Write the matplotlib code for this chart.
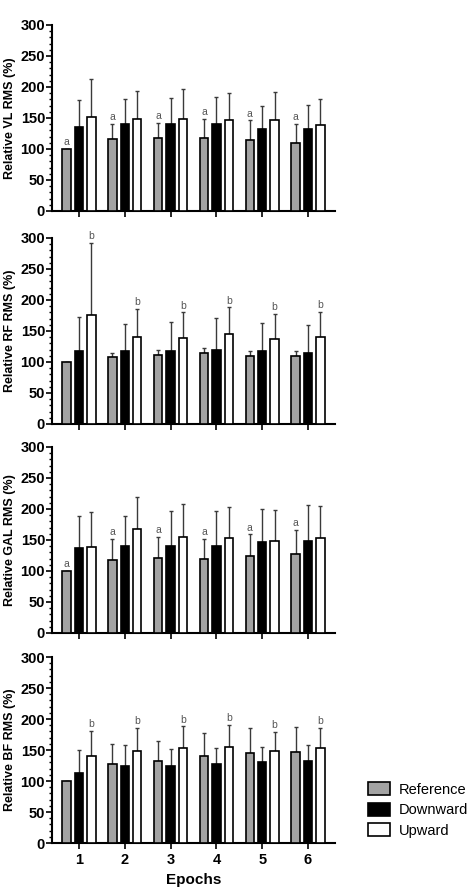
import numpy as np
import matplotlib
matplotlib.use("Agg")
import matplotlib.pyplot as plt
from matplotlib.patches import Patch
from matplotlib.ticker import MultipleLocator

plt.rcParams['font.family'] = ['Liberation Sans', 'DejaVu Sans']

epochs = [1, 2, 3, 4, 5, 6]
conditions = ["Reference", "Downward", "Upward"]
muscles = ["VL", "RF", "GAL", "BF"]

# means and mean+SD (upper error bar tops) per muscle, per condition
vl_mean = [[100, 116, 117, 117, 114, 110],
           [136, 141, 141, 141, 132, 133],
           [151, 148, 149, 146, 147, 139]]
vl_top = [[100, 141, 142, 149, 146, 141],
          [179, 180, 182, 184, 170, 171],
          [213, 194, 196, 190, 192, 180]]

rf_mean = [[100, 108, 112, 115, 109, 110],
           [118, 117, 118, 120, 117, 115],
           [176, 141, 139, 145, 137, 141]]
rf_top = [[100, 115, 119, 122, 117, 117],
          [172, 161, 165, 171, 163, 160],
          [292, 185, 180, 188, 177, 181]]

gal_mean = [[100, 118, 121, 119, 124, 128],
            [137, 140, 140, 141, 146, 148],
            [139, 167, 155, 153, 148, 153]]
gal_top = [[100, 152, 155, 152, 159, 166],
           [189, 189, 196, 196, 200, 206],
           [195, 220, 208, 203, 198, 204]]

bf_mean = [[100, 128, 132, 141, 145, 147],
           [113, 124, 124, 128, 130, 132],
           [141, 148, 153, 155, 149, 154]]
bf_top = [[100, 159, 165, 177, 185, 187],
          [150, 158, 152, 153, 155, 158],
          [181, 185, 188, 190, 179, 186]]

# significance letters: (condition index, letter)
marks = [(0, "a"), (2, "b"), (0, "a"), (2, "b")]

means = [vl_mean, rf_mean, gal_mean, bf_mean]
tops = [vl_top, rf_top, gal_top, bf_top]

face = ["#a3a3a3", "black", "white"]
offsets = [-0.27, 0.0, 0.27]
width = 0.185

fig = plt.figure(figsize=(4.68, 8.92), dpi=100)
bottoms = [0.7635, 0.5247, 0.2904, 0.0549]
x = np.array(epochs)

for k, m in enumerate(muscles):
    ax = fig.add_axes([0.111, bottoms[k], 0.605, 0.2085])
    for c in range(3):
        mean = np.array(means[k][c])
        top = np.array(tops[k][c])
        ax.bar(x + offsets[c], mean, width, color=face[c], edgecolor="black",
               linewidth=1.2, zorder=3)
        ax.errorbar(x + offsets[c], mean, yerr=[np.zeros_like(mean), top - mean],
                    fmt="none", ecolor="#3a3a3a", elinewidth=1.0, capsize=1.5,
                    capthick=1.0, zorder=2)
    ci, letter = marks[k]
    for i in range(len(epochs)):
        y = tops[k][ci][i]
        ax.text(x[i] + offsets[ci], y + 3, letter, ha="center", va="bottom",
                fontsize=7.5, color="#555555")
    ax.set_xlim(0.41, 6.59)
    ax.set_ylim(0, 300)
    ax.spines["top"].set_visible(False)
    ax.spines["right"].set_visible(False)
    for s in ["left", "bottom"]:
        ax.spines[s].set_linewidth(1.5)
    ax.yaxis.set_major_locator(MultipleLocator(50))
    ax.yaxis.set_minor_locator(MultipleLocator(10))
    ax.tick_params(axis="y", which="major", length=4, width=1.2, labelsize=10.5, pad=1)
    ax.tick_params(axis="y", which="minor", length=2.5, width=1.0)
    ax.tick_params(axis="x", length=4, width=1.2, labelsize=10.5)
    ax.set_xticks(x)
    for lab in ax.get_yticklabels():
        lab.set_fontweight("bold")
    if k < 3:
        ax.set_xticklabels([])
    else:
        ax.set_xticklabels([str(e) for e in epochs], fontweight="bold")
        ax.set_xlabel("Epochs", fontsize=11, fontweight="bold", labelpad=4)
    ax.set_ylabel("Relative %s RMS (%%)" % m, fontsize=9, fontweight="bold", labelpad=3)

handles = [Patch(facecolor=face[c], edgecolor="black", linewidth=1.2) for c in range(3)]
fig.legend(handles, conditions, loc="upper left", bbox_to_anchor=(0.758, 0.138),
           frameon=False, fontsize=10.5, handlelength=1.5, handleheight=1.0,
           labelspacing=0.42, handletextpad=0.6)

fig.savefig("out.png", dpi=100)
